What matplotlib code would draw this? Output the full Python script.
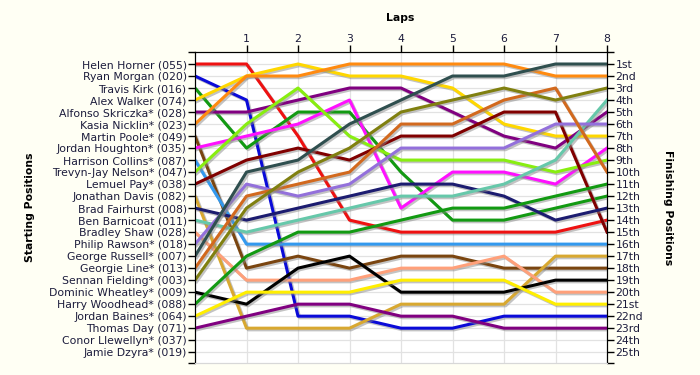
import matplotlib
matplotlib.use("Agg")
import matplotlib.pyplot as plt
import matplotlib.patheffects as pe

# --- data: starting grid order (names) and position after each lap ---
laps = [0, 1, 2, 3, 4, 5, 6, 7, 8]

driver_names = [
    "Helen Horner (055)", "Ryan Morgan (020)", "Travis Kirk (016)",
    "Alex Walker (074)", "Alfonso Skriczka* (028)", "Kasia Nicklin* (023)",
    "Martin Poole* (049)", "Jordan Houghton* (035)", "Harrison Collins* (087)",
    "Trevyn-Jay Nelson* (047)", "Lemuel Pay* (038)", "Jonathan Davis (082)",
    "Brad Fairhurst (008)", "Ben Barnicoat (011)", "Bradley Shaw (028)",
    "Philip Rawson* (018)", "George Russell* (007)", "Georgie Line* (013)",
    "Sennan Fielding* (003)", "Dominic Wheatley* (009)", "Harry Woodhead* (088)",
    "Jordan Baines* (064)", "Thomas Day (071)", "Conor Llewellyn* (037)",
    "Jamie Dzyra* (019)",
]

finish_labels = ["1st", "2nd", "3rd"] + [f"{i}th" for i in range(4, 21)] + \
                ["21st", "22nd", "23rd", "24th", "25th"]

# one list per line, lap 0 .. lap 8
pos_red = [1, 1, 7, 14, 15, 15, 15, 15, 14]
pos_blue = [2, 4, 22, 22, 23, 23, 22, 22, 22]
pos_green = [3, 8, 5, 5, 10, 14, 14, 13, 12]
pos_gold = [4, 2, 1, 2, 2, 3, 6, 7, 7]
pos_purple = [5, 5, 4, 3, 3, 5, 7, 8, 5]
pos_orange = [6, 2, 2, 1, 1, 1, 1, 2, 2]
pos_brown = [7, 18, 17, 18, 17, 17, 18, 18, 18]
pos_magenta = [8, 7, 6, 4, 13, 10, 10, 11, 8]
pos_skyblue = [9, 16, 16, 16, 16, 16, 16, 16, 16]
pos_lime = [10, 6, 3, 7, 9, 9, 9, 10, 9]
pos_maroon = [11, 9, 8, 9, 7, 7, 5, 5, 15]
pos_goldenrod = [12, 23, 23, 23, 21, 21, 21, 17, 17]
pos_navy = [13, 14, 13, 12, 11, 11, 12, 14, 13]
pos_aqua = [14, 15, 14, 13, 12, 12, 11, 9, 4]
pos_salmon = [15, 19, 19, 19, 18, 18, 17, 20, 20]
pos_mpurple = [16, 11, 12, 11, 8, 8, 8, 6, 6]
pos_slate = [17, 10, 9, 6, 4, 2, 2, 1, 1]
pos_choc = [18, 12, 11, 10, 6, 6, 4, 3, 10]
pos_olive = [19, 13, 10, 8, 5, 4, 3, 4, 3]
pos_black = [20, 21, 18, 17, 20, 20, 20, 19, 19]
pos_green2 = [21, 17, 15, 15, 14, 13, 13, 12, 11]
pos_yellow2 = [22, 20, 20, 20, 19, 19, 19, 21, 21]
pos_purple2 = [23, 22, 21, 21, 22, 22, 23, 23, 23]

series = [pos_red, pos_blue, pos_green, pos_gold, pos_purple, pos_orange,
          pos_brown, pos_magenta, pos_skyblue, pos_lime, pos_maroon,
          pos_goldenrod, pos_navy, pos_aqua, pos_salmon, pos_mpurple,
          pos_slate, pos_choc, pos_olive, pos_black, pos_green2,
          pos_yellow2, pos_purple2]

colors = ["#ee1111", "#0a0ad8", "#129a12", "#ffd700", "#800080", "#ff8a10",
          "#7a4510", "#ff10ff", "#3399ee", "#88ee10", "#800000",
          "#d8a830", "#1c1c70", "#66c8aa", "#ffa07a", "#9370db",
          "#2f4f4f", "#d2691e", "#808010", "#000000", "#129a12",
          "#ffee00", "#800080"]

TEXT = "#1c1c3c"
BG = "#fffff4"
FS = 7.8

fig = plt.figure(figsize=(7, 3.75), dpi=100, facecolor=BG)
ax = fig.add_axes([195 / 700, 1 - 363 / 375, 412 / 700, 311 / 375])
ax.set_facecolor("white")

for pos, col in zip(series, colors):
    ax.plot(laps, pos, color=col, lw=2.2,
            path_effects=[pe.SimpleLineShadow(offset=(1.2, -1.2), shadow_color="#888888", alpha=0.5),
                          pe.Normal()], zorder=3)

ax.set_xlim(0, 8)
ax.set_ylim(25.9, 0)

# top axis with laps
ax.xaxis.tick_top()
ax.set_xticks(range(1, 9))
ax.set_xticklabels([str(i) for i in range(1, 9)], fontsize=FS, color=TEXT)
ax.tick_params(axis="x", direction="out", length=5, width=1, pad=1, color="black")

# left axis with driver names
ax.set_yticks(range(1, 26))
ax.set_yticklabels(driver_names, fontsize=FS, color=TEXT)
ax.set_yticks([0, 25.9], minor=True)
ax.tick_params(axis="y", which="both", direction="out", length=5, width=1, pad=1, color="black")

# right axis with finishing positions
ax2 = ax.twinx()
ax2.set_ylim(25.9, 0)
ax2.set_yticks(range(1, 26))
ax2.set_yticklabels(finish_labels, fontsize=FS, color=TEXT)
ax2.set_yticks([0, 25.9], minor=True)
ax2.tick_params(axis="y", which="both", direction="out", length=5, width=1, pad=1, color="black")

ax.grid(True, color="#e2e2e2", lw=0.9, zorder=0)
ax.set_axisbelow(True)

for a in (ax, ax2):
    a.spines["bottom"].set_color("#d8d8d8")
    a.spines["left"].set_color("black")
    a.spines["right"].set_color("black")
    a.spines["top"].set_color("black")

fig.text(400 / 700, 1 - 18 / 375, "Laps", fontsize=FS, fontweight="bold",
         color="black", ha="center", va="center")
fig.text(30 / 700, 0.5 - 20 / 375, "Starting Positions", fontsize=FS, fontweight="bold",
         color="black", ha="center", va="center", rotation=90)
fig.text(668 / 700, 0.5 - 20 / 375, "Finishing Positions", fontsize=FS, fontweight="bold",
         color="black", ha="center", va="center", rotation=270)

fig.savefig("out.png", dpi=100, facecolor=BG)
